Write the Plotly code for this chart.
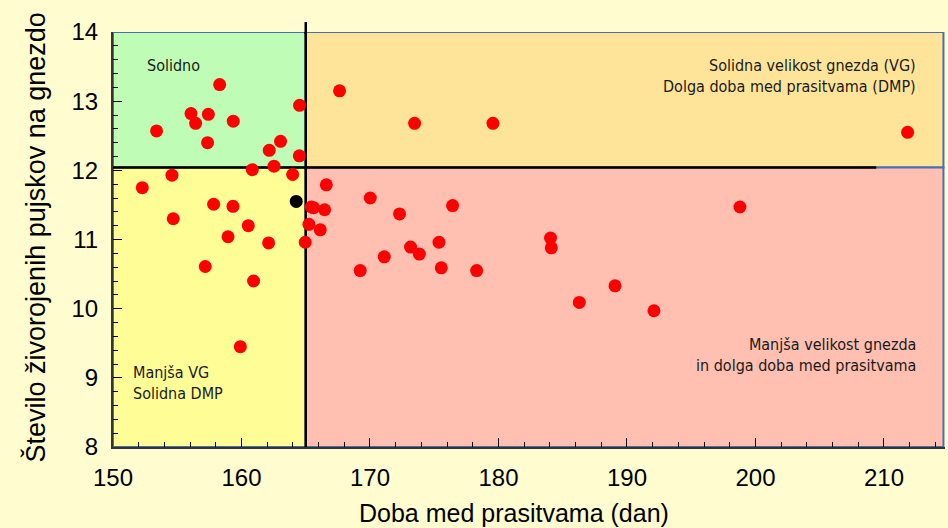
import plotly.graph_objects as go

# --- data -------------------------------------------------------------
x_vals = [158.30, 156.07, 156.43, 157.42, 159.36, 153.39, 157.36, 164.52, 163.04, 162.16,
          164.50, 160.84, 162.53, 163.98, 154.59, 152.28, 157.83, 159.34, 154.69, 160.53,
          158.95, 162.11, 157.18, 160.94, 164.96, 159.91, 167.63, 173.47, 179.57, 166.60,
          170.02, 165.43, 165.61, 166.47, 172.30, 176.43, 165.25, 166.13, 175.37, 173.16,
          173.84, 171.11, 169.24, 175.55, 178.30, 184.05, 184.11, 186.29, 198.79, 189.07,
          192.10, 211.84]
y_vals = [13.24, 12.82, 12.68, 12.81, 12.71, 12.57, 12.40, 12.94, 12.42, 12.29,
          12.21, 12.01, 12.06, 11.94, 11.93, 11.75, 11.51, 11.48, 11.30, 11.20,
          11.04, 10.95, 10.61, 10.40, 10.96, 9.45, 13.15, 12.68, 12.68, 11.79,
          11.60, 11.47, 11.46, 11.43, 11.37, 11.49, 11.22, 11.14, 10.96, 10.89,
          10.79, 10.75, 10.55, 10.59, 10.55, 11.02, 10.88, 10.09, 11.47, 10.33,
          9.97, 12.55]
avg_x = [164.26]
avg_y = [11.55]

x_split = 165.0
y_split = 12.04
x_range = [150, 214.75]
y_range = [8, 14]

region_labels = ["Solidno",
                 "Solidna velikost gnezda (VG)<br>Dolga doba med prasitvama (DMP)",
                 "Manjša velikost gnezda<br>in dolga doba med prasitvama",
                 "Manjša VG<br>Solidna DMP"]
x_title = "Doba med prasitvama (dan)"
y_title = "Število živorojenih pujskov na gnezdo"

# --- figure -----------------------------------------------------------
fig = go.Figure()
fig.add_trace(go.Scatter(x=x_vals, y=y_vals, mode="markers",
                         marker=dict(color="#FF0000", size=13, line=dict(width=0)),
                         showlegend=False, cliponaxis=False))
fig.add_trace(go.Scatter(x=avg_x, y=avg_y, mode="markers",
                         marker=dict(color="#000000", size=13, line=dict(width=0)),
                         showlegend=False))

border = dict(color="#4A6FB0", width=2)
x_right = x_range[1] - 0.12
black = dict(color="#000000", width=2.5)
shapes = [
    dict(type="rect", xref="x", yref="y", x0=x_range[0], x1=x_split, y0=y_split, y1=y_range[1],
         fillcolor="#BFFCB6", line=border, layer="below"),
    dict(type="rect", xref="x", yref="y", x0=x_split, x1=x_right, y0=y_split, y1=y_range[1],
         fillcolor="#FEE499", line=border, layer="below"),
    dict(type="rect", xref="x", yref="y", x0=x_range[0], x1=x_split, y0=y_range[0], y1=y_split,
         fillcolor="#FFFD95", line=border, layer="below"),
    dict(type="rect", xref="x", yref="y", x0=x_split, x1=x_right, y0=y_range[0], y1=y_split,
         fillcolor="#FFBFB1", line=border, layer="below"),
    dict(type="line", xref="x", yref="y", x0=x_range[0], x1=209.4, y0=y_split, y1=y_split,
         line=black, layer="below"),
    dict(type="line", xref="x", yref="y", x0=x_split, x1=x_split, y0=y_range[0], y1=y_range[1],
         line=black, layer="below"),
    dict(type="line", xref="x", yref="paper", x0=x_split, x1=x_split, y0=0.995, y1=1.024,
         line=black, layer="above"),
]

ann_font = dict(family="DejaVu Sans Condensed, DejaVu Sans, sans-serif", size=16, color="#1A1A1A")
annotations = [
    dict(x=152.5, y=13.51, text=region_labels[0], xanchor="left", yanchor="middle",
         showarrow=False, font=ann_font, align="left"),
    dict(x=212.65, y=13.37, text=region_labels[1], xanchor="right", yanchor="middle",
         showarrow=False, font=ann_font, align="right"),
    dict(x=212.65, y=9.33, text=region_labels[2], xanchor="right", yanchor="middle",
         showarrow=False, font=ann_font, align="right"),
    dict(x=151.42, y=8.92, text=region_labels[3], xanchor="left", yanchor="middle",
         showarrow=False, font=ann_font, align="left"),
    dict(xref="paper", yref="paper", x=0.482, y=-0.16, text=x_title, showarrow=False,
         xanchor="center", yanchor="middle",
         font=dict(family="Liberation Sans, Arial, sans-serif", size=25, color="#000000")),
    dict(xref="paper", yref="paper", x=-0.093, y=0.504, text=y_title, showarrow=False,
         textangle=-90, xanchor="center", yanchor="middle",
         font=dict(family="Liberation Sans, Arial, sans-serif", size=27, color="#000000")),
]

tick_font = dict(family="Liberation Sans, Arial, sans-serif", size=24, color="#000000")
fig.update_layout(
    width=948, height=528,
    margin=dict(l=113, r=3, t=32, b=81),
    paper_bgcolor="#FFFDCF", plot_bgcolor="#FFFDCF",
    shapes=shapes, annotations=annotations,
    xaxis=dict(range=x_range, dtick=10, tick0=150, ticks="inside", ticklen=9, tickwidth=1.3,
               tickcolor="#000000", showgrid=False, zeroline=False, showline=True,
               linecolor="#333333", linewidth=2, tickfont=tick_font, ticklabelstandoff=8,
               minor=dict(dtick=2, ticks="inside", ticklen=5, tickcolor="#000000", tickwidth=1.3,
                          showgrid=False)),
    yaxis=dict(range=y_range, dtick=1, tick0=8, ticks="inside", ticklen=9, tickwidth=1.3,
               tickcolor="#000000", showgrid=False, zeroline=False, showline=True,
               linecolor="#333333", linewidth=2, tickfont=tick_font, ticklabelstandoff=8,
               minor=dict(dtick=0.2, ticks="inside", ticklen=5, tickcolor="#000000", tickwidth=1.3,
                          showgrid=False)),
)

fig.write_html("out.html", config={"displayModeBar": False},
               post_script="document.body.style.margin='0px';document.body.style.background='#FFFDCF';")
